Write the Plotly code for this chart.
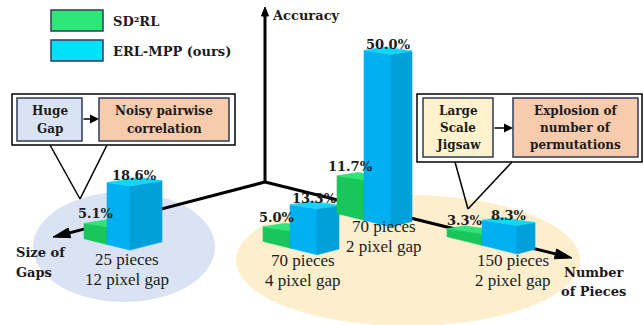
import plotly.graph_objects as go

# ---- data -------------------------------------------------------------
pieces_labels = ["25 pieces", "70 pieces", "70 pieces", "150 pieces"]
gap_labels = ["12 pixel gap", "4 pixel gap", "2 pixel gap", "2 pixel gap"]
sd2rl_acc = [5.1, 5.0, 11.7, 3.3]
erl_mpp_acc = [18.6, 13.3, 50.0, 8.3]
series_names = ["SD²RL", "ERL-MPP (ours)"]

# ---- scene layout (pixel space, y grows downward) ----------------------
W, H = 644, 325
ORIGIN = (265.0, 182.0)
U_DIR = (1.0, 0.2475)      # floor direction of "Number of Pieces"
V_DIR = (-1.0, 0.26)       # floor direction of "Size of Gaps"
PX_PER_PCT = 3.45          # vertical scale of the accuracy axis
TOP_SLOPE = (0.15, 0.16)   # flattened slope of the bar tops

group_floor = [(65, 200), (170, 118), (153, 27), (271, 19)]   # (u, v) of each group
group_faces = [(23, 32), (27, 22), (27, 21), (35, 18)]        # left / right face widths
group_text_at = [(127, 259), (303, 260), (384, 226), (513, 260)]

GREEN = {"left": "#19c65b", "right": "#13ad4f", "top": "#2fe57b"}
BLUE = {"left": "#00b0f0", "right": "#00a0da", "top": "#12d6f8"}
INK = "#1b1b1b"
BOLD = "DejaVu Serif"
REG = "Liberation Serif"


def project(u, v, z=0.0):
    return (ORIGIN[0] + u * U_DIR[0] + v * V_DIR[0],
            ORIGIN[1] + u * U_DIR[1] + v * V_DIR[1] - z)


fig = go.Figure()


def add_poly(pts, color):
    xs = [p[0] for p in pts] + [pts[0][0]]
    ys = [p[1] for p in pts] + [pts[0][1]]
    fig.add_trace(go.Scatter(x=xs, y=ys, mode="lines", fill="toself",
                             fillcolor=color, line=dict(color=color, width=0.6),
                             hoverinfo="skip", showlegend=False))


def add_box(front, wl, wr, value, colors):
    """3-D column whose front-bottom corner is `front`; height from value."""
    x, y = front
    h = value * PX_PER_PCT
    bl = (x - wl, y - U_DIR[1] * wl)
    br = (x + wr, y - V_DIR[1] * wr)
    tf = (x, y - h)
    tl = (x - wl, y - h - TOP_SLOPE[0] * wl)
    tr = (x + wr, y - h - TOP_SLOPE[1] * wr)
    tb = (x - wl + wr, y - h - TOP_SLOPE[0] * wl - TOP_SLOPE[1] * wr)
    add_poly([bl, front, tf, tl], colors["left"])
    add_poly([front, br, tr, tf], colors["right"])
    add_poly([tf, tl, tb, tr], colors["top"])
    return tf


shapes = []
annotations = []

# floor ellipses
shapes.append(dict(type="circle", xref="x", yref="y", x0=33, x1=215, y0=192, y1=302,
                   fillcolor="#dae3f3", line=dict(width=0), layer="below"))
shapes.append(dict(type="circle", xref="x", yref="y", x0=236, x1=580, y0=195, y1=326,
                   fillcolor="#fdefcd", line=dict(width=0), layer="below"))


def axis_arrow(tip, direction, length, half):
    dx, dy = direction
    n = (dx * dx + dy * dy) ** 0.5
    dx, dy = dx / n, dy / n
    bx, by = tip[0] - dx * length, tip[1] - dy * length
    px, py = -dy, dx
    shapes.append(dict(type="line", xref="x", yref="y", x0=ORIGIN[0], y0=ORIGIN[1],
                       x1=bx + dx * 2, y1=by + dy * 2, line=dict(color="black", width=3),
                       layer="below"))
    path = (f"M {tip[0]},{tip[1]} L {bx + px * half},{by + py * half} "
            f"L {bx - px * half},{by - py * half} Z")
    shapes.append(dict(type="path", xref="x", yref="y", path=path,
                       fillcolor="black", line=dict(color="black", width=1), layer="below"))


axis_arrow((ORIGIN[0], 7), (0, -1), 9, 3.5)
axis_arrow(project(0, 212), V_DIR, 17, 5)
axis_arrow(project(307, 0), U_DIR, 17, 5)

# columns
for i in range(len(erl_mpp_acc)):
    wl, wr = group_faces[i]
    front_b = project(*group_floor[i])
    front_g = (front_b[0] - wl * U_DIR[0], front_b[1] - wl * U_DIR[1])
    tg = add_box(front_g, wl, wr, sd2rl_acc[i], GREEN)
    tb = add_box(front_b, wl, wr, erl_mpp_acc[i], BLUE)
    annotations.append(dict(x=tg[0] - wl / 2, y=tg[1] - 13, text=f"<b>{sd2rl_acc[i]:.1f}%</b>",
                            font=dict(family=BOLD, size=13, color=INK), showarrow=False))
    annotations.append(dict(x=tb[0] + (wr - wl) / 2, y=tb[1] - 10, text=f"<b>{erl_mpp_acc[i]:.1f}%</b>",
                            font=dict(family=BOLD, size=13, color=INK), showarrow=False))
    lx, ly = group_text_at[i]
    for k, line in enumerate([pieces_labels[i], gap_labels[i]]):
        annotations.append(dict(x=lx, y=ly + 20 * k, text=line, showarrow=False,
                                font=dict(family=REG, size=17, color=INK)))


def bold_text(x, y, s, size=13, anchor="center"):
    annotations.append(dict(x=x, y=y, text=f"<b>{s}</b>", showarrow=False, xanchor=anchor,
                            font=dict(family=BOLD, size=size, color=INK)))


# axis titles
bold_text(270, 15, "Accuracy", anchor="left")
bold_text(14, 252, "Size of", anchor="left")
bold_text(14, 272, "Gaps", anchor="left")
bold_text(593, 272, "Number")
bold_text(593, 291, "of Pieces")

# legend
legend_colors = ["#2de879", "#00e0f8"]
for k, (name, col) in enumerate(zip(series_names, legend_colors)):
    y0 = 10 + 30 * k
    shapes.append(dict(type="rect", xref="x", yref="y", x0=51, x1=103, y0=y0, y1=y0 + 21,
                       fillcolor=col, line=dict(color="#2f3b57", width=1.5)))
    bold_text(111, y0 + 11, name, size=13, anchor="left")


# call-out boxes: outer frame, pointer wedge, two captioned cells joined by an arrow
def draw_callout(box, wedge_l, wedge_r, tip, cells, arrow_y):
    x0, y0, x1, y1 = box
    shapes.append(dict(type="rect", xref="x", yref="y", x0=x0, x1=x1, y0=y0, y1=y1,
                       fillcolor="white", line=dict(color="black", width=1.5)))
    for wx in (wedge_l, wedge_r):
        shapes.append(dict(type="line", xref="x", yref="y", x0=wx, y0=y1, x1=tip[0], y1=tip[1],
                           line=dict(color="black", width=1.5)))
    for (cx0, cy0, cx1, cy1, fill, lines, step) in cells:
        shapes.append(dict(type="rect", xref="x", yref="y", x0=cx0, x1=cx1, y0=cy0, y1=cy1,
                           fillcolor=fill, line=dict(color="#2f3b57", width=1.5)))
        mid = (cy0 + cy1) / 2
        n = len(lines)
        for j, s in enumerate(lines):
            bold_text((cx0 + cx1) / 2, mid + (j - (n - 1) / 2) * step, s, size=12)
    annotations.append(dict(x=cells[1][0], y=arrow_y, ax=cells[0][2], ay=arrow_y,
                            xref="x", yref="y", axref="x", ayref="y", text="",
                            showarrow=True, arrowhead=2, arrowsize=1.2, arrowwidth=1.5,
                            arrowcolor="black"))


draw_callout((12, 94, 235, 145), 50, 107, (80, 199),
             [(17, 98, 82, 141, "#dae3f3", ["Huge", "Gap"], 18),
              (99, 98, 229, 141, "#f8cbad", ["Noisy pairwise", "correlation"], 18)], 119)
draw_callout((417, 94, 642, 162), 455, 512, (468, 209),
             [(423, 98, 493, 157, "#fff2cc", ["Large", "Scale", "Jigsaw"], 17),
              (513, 98, 638, 157, "#f8cbad", ["Explosion of", "number of", "permutations"], 17)], 128)

fig.update_layout(
    width=W, height=H, margin=dict(l=0, r=0, t=0, b=0),
    paper_bgcolor="white", plot_bgcolor="white",
    xaxis=dict(range=[0, W], visible=False, fixedrange=True),
    yaxis=dict(range=[H, 0], visible=False, fixedrange=True),
    shapes=shapes, annotations=annotations, showlegend=False,
)

fig.write_html("out.html")
